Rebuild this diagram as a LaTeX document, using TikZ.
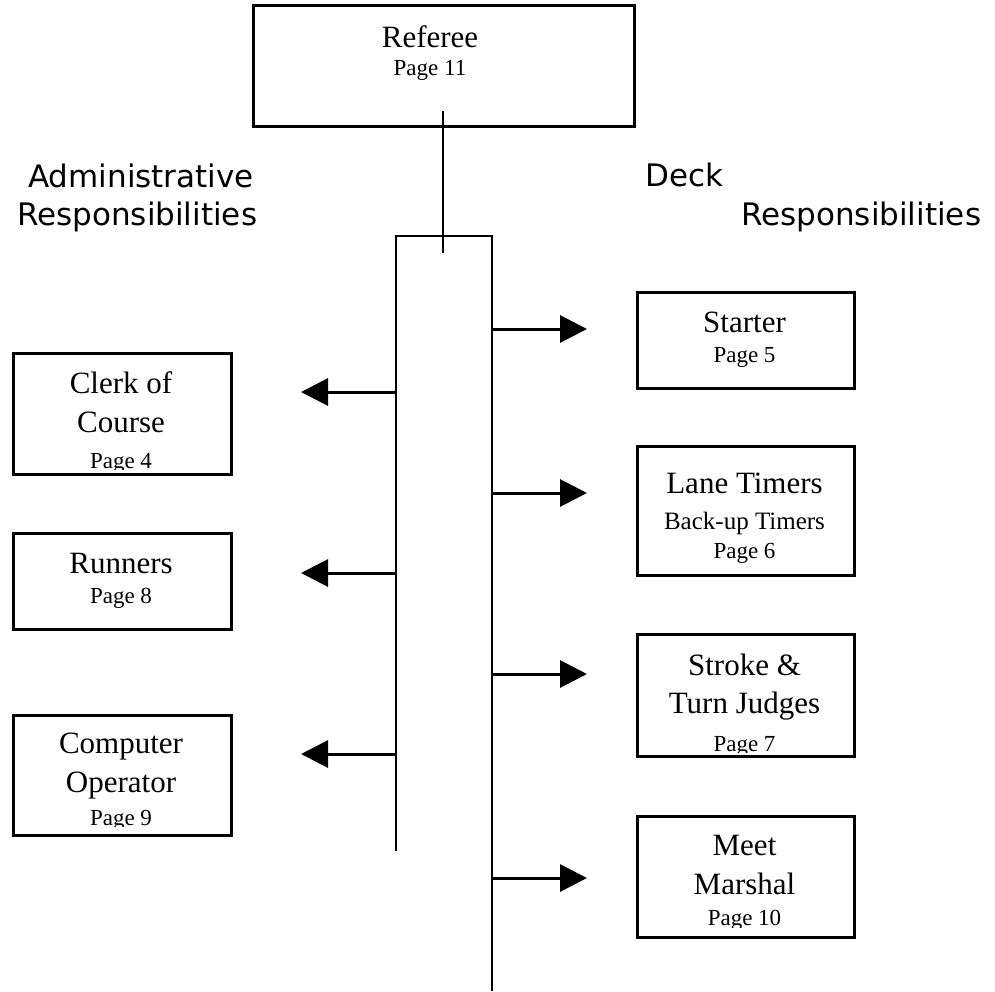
\documentclass[tikz,border=0pt]{standalone}
\usepackage{fontspec}
\setmainfont{Liberation Serif}
\newfontfamily\headfont{DejaVu Sans}
\usetikzlibrary{arrows.meta}
\begin{document}
\begin{tikzpicture}[x=1pt,y=-1pt,
  boxnode/.style={draw, line width=2.5pt, inner sep=0pt, anchor=north west},
  big/.style={font=\fontsize{31}{37}\selectfont, inner sep=0pt, anchor=base},
  small/.style={font=\fontsize{23}{27}\selectfont, inner sep=0pt, anchor=base},
  mid/.style={font=\fontsize{25}{29}\selectfont, inner sep=0pt, anchor=base},
  head/.style={font=\headfont\fontsize{31}{37}\selectfont, inner sep=0pt, anchor=base west},
  bus/.style={line width=2pt},
  arr/.style={line width=3pt, -{Triangle[length=27pt,width=27pt]}}]
\useasboundingbox (0,0) rectangle (995,991);

% headings
\node[head] (admA) at (28,187) {Administrative};
\node[head] (admB) at (17,225) {Responsibilities};
\node[head] (deckA) at (645,186) {Deck};
\node[head] (deckB) at (741,225) {Responsibilities};

% referee
\node[boxnode, minimum width=381pt, minimum height=121pt] (ref) at (252,4) {};
\node[big] (refA) at (430,47) {Referee};
\node[small] (refB) at (430,75) {Page 11};

% left boxes
\begin{scope}
  \clip (12,352) rectangle (230,469.5);
  \node[big] (clerkA) at (121,393) {Clerk of};
  \node[big] (clerkB) at (121,432) {Course};
  \node[small] (clerkC) at (121,468) {Page 4};
\end{scope}
\node[boxnode, minimum width=218pt, minimum height=121pt] (clerk) at (12,352) {};

\node[boxnode, minimum width=218pt, minimum height=96pt] (run) at (12,532) {};
\node[big] (runA) at (121,573) {Runners};
\node[small] (runB) at (121,603) {Page 8};

\begin{scope}
  \clip (12,714) rectangle (230,826.5);
  \node[big] (compA) at (121,753) {Computer};
  \node[big] (compB) at (121,792) {Operator};
  \node[small] (compC) at (121,825) {Page 9};
\end{scope}
\node[boxnode, minimum width=218pt, minimum height=120pt] (comp) at (12,714) {};

% right boxes
\node[boxnode, minimum width=217pt, minimum height=96pt] (start) at (636,291) {};
\node[big] (startA) at (744.5,332) {Starter};
\node[small] (startB) at (744.5,362) {Page 5};

\node[boxnode, minimum width=217pt, minimum height=129pt] (lane) at (636,445) {};
\node[big] (laneA) at (744.5,493) {Lane Timers};
\node[mid] (laneB) at (744.5,529) {Back-up Timers};
\node[small] (laneC) at (744.5,558) {Page 6};

\begin{scope}
  \clip (636,633) rectangle (853,752.5);
  \node[big] (strA) at (744.5,675) {Stroke \&};
  \node[big] (strB) at (744.5,713) {Turn Judges};
  \node[small] (strC) at (744.5,751) {Page 7};
\end{scope}
\node[boxnode, minimum width=217pt, minimum height=122pt] (str) at (636,633) {};

\begin{scope}
  \clip (636,815) rectangle (853,927);
  \node[big] (meetA) at (744.5,855) {Meet};
  \node[big] (meetB) at (744.5,894) {Marshal};
  \node[small] (meetC) at (744.5,925.5) {Page 10};
\end{scope}
\node[boxnode, minimum width=217pt, minimum height=121pt] (meet) at (636,815) {};

% bus lines
\coordinate (refTop) at (443,111);
\coordinate (refBot) at (443,253);
\coordinate (busLB) at (396,851);
\coordinate (busLT) at (396,236);
\coordinate (busRT) at (492,236);
\coordinate (busRB) at (492,991);
\draw[bus] (refTop) -- (refBot);
\draw[bus] (busLB) -- (busLT) -- (busRT) -- (busRB);

% arrows right
\coordinate (r1) at (492,329); \coordinate (r1t) at (587,329);
\coordinate (r2) at (492,493); \coordinate (r2t) at (587,493);
\coordinate (r3) at (492,674); \coordinate (r3t) at (587,674);
\coordinate (r4) at (492,878); \coordinate (r4t) at (587,878);
\draw[arr] (r1) -- (r1t);
\draw[arr] (r2) -- (r2t);
\draw[arr] (r3) -- (r3t);
\draw[arr] (r4) -- (r4t);

% arrows left
\coordinate (l1) at (396,392); \coordinate (l1t) at (301,392);
\coordinate (l2) at (396,573); \coordinate (l2t) at (301,573);
\coordinate (l3) at (396,754); \coordinate (l3t) at (301,754);
\draw[arr] (l1) -- (l1t);
\draw[arr] (l2) -- (l2t);
\draw[arr] (l3) -- (l3t);
\end{tikzpicture}
\end{document}
